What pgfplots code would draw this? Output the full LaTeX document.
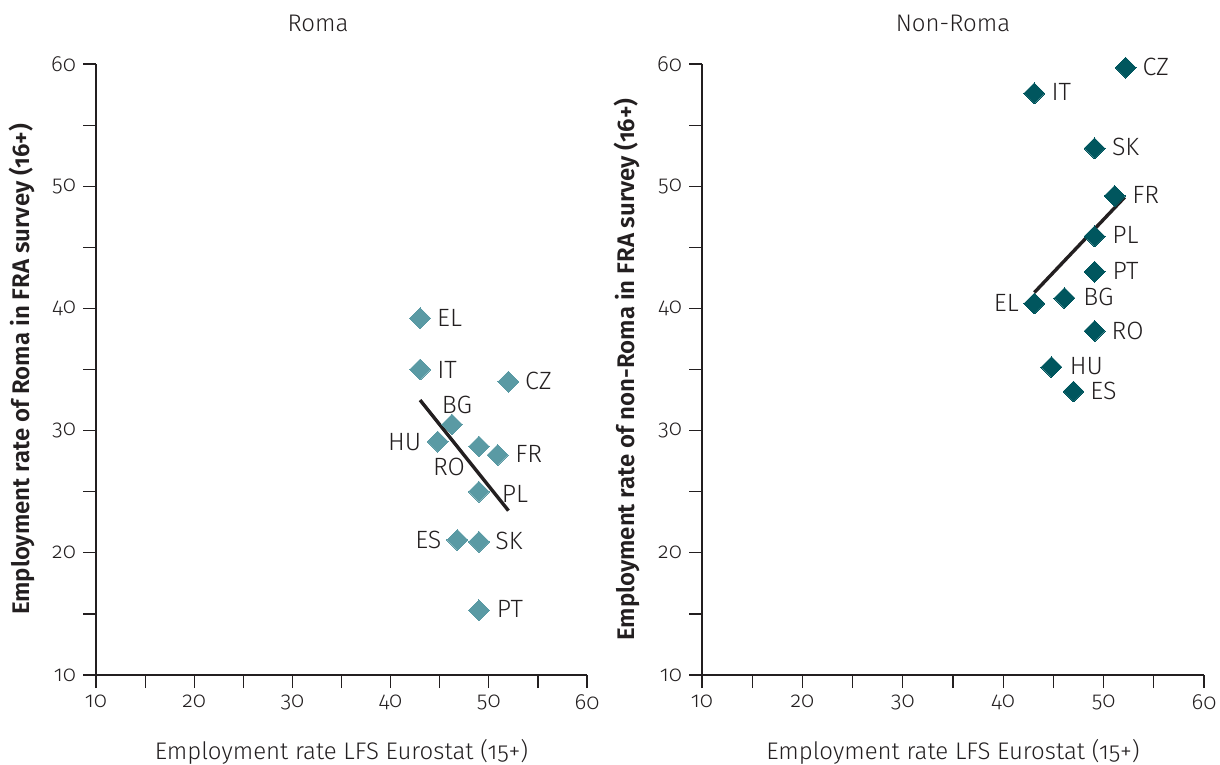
\documentclass[border=0pt]{standalone}
\usepackage{pgfplots}
\pgfplotsset{compat=1.18}
\usepackage{pgfplotstable}
\usepackage{fontspec}
\setmainfont{Fira Sans}[Numbers=OldStyle, UprightFont=* Light, BoldFont=* SemiBold]
\definecolor{romac}{HTML}{5A9AA4}
\definecolor{nonromac}{HTML}{00565E}
\definecolor{txt}{HTML}{231F20}

\pgfplotstableread{
x y label dx dy
43.0 39.2 EL 14.75 0
43.0 35.0 IT 13.5 0
52.0 34.0 CZ 15 0.5
46.25 30.5 BG 2.5 10
44.8 29.1 HU -16.5 0
49.0 28.7 RO -15 -10
50.9 28.0 FR 15.5 0.5
49.0 25.0 PL 18 -1
46.8 21.05 ES -14.5 0
49.0 20.9 SK 15 0.5
49.0 15.3 PT 15.5 0.5
}\romadata

\pgfplotstableread{
x y label dx dy
52.2 59.7 CZ 15 0.5
43.1 57.6 IT 13.5 0.5
49.1 53.1 SK 15.5 0.5
51.1 49.2 FR 15.5 0.5
49.1 45.9 PL 15.5 0.5
49.1 43.0 PT 15.5 0.5
46.1 40.85 BG 17 0.5
43.1 40.4 EL -14 0.5
49.1 38.15 RO 16.5 0
44.8 35.2 HU 17.5 0.5
47.0 33.2 ES 15 0.5
}\nonromadata

\pgfplotsset{
  panel/.style={
    scale only axis, height=305.5pt,
    xmin=10, xmax=60, ymin=10, ymax=60,
    axis x line*=bottom, axis y line*=left,
    axis line style={-, txt, line width=0.6pt},
    tick style={txt, line width=0.6pt},
    tick align=outside,
    major tick length=6.5pt, minor tick length=6.5pt,
    xtick={10,20,...,60}, ytick={10,20,...,60},
    minor x tick num=1, minor y tick num=1,
    tick label style={font=\fontsize{11}{12}\selectfont, text=txt},
    /pgf/number format/assume math mode=true,
    xlabel style={font=\fontsize{12}{14}\selectfont, text=txt, at={(axis description cs:0.5,-0.126)}, anchor=center},
    ylabel style={font=\fontsize{12}{14}\selectfont\bfseries, text=txt, at={(axis description cs:-0.15,0.5)}, anchor=center},
    title style={font=\fontsize{12}{14}\selectfont, text=txt, anchor=center, yshift=-5pt},
    clip=false,
  },
  pts/.style={only marks, mark=square*, mark size=3.7pt,
    mark options={rotate=45, fill=#1, draw=#1, line width=0pt},
    nodes near coords, point meta=explicit symbolic,
    visualization depends on={\thisrow{dx} \as \dx},
    visualization depends on={\thisrow{dy} \as \dy},
    every node near coord/.append style={anchor=center, xshift=\dx pt, yshift=\dy pt,
      font=\fontsize{12.5}{14}\selectfont, text=txt, inner sep=0pt}},
}

\begin{document}
\begin{tikzpicture}
\useasboundingbox (0,0) rectangle (610pt,-382.5pt);
\begin{axis}[panel, width=245.5pt, at={(48pt,-337.5pt)}, anchor=south west,
  title={Roma}, title style={at={(axis description cs:0.452,1.0638)}},
  xlabel={Employment rate LFS Eurostat (15+)},
  ylabel={Employment rate of Roma in FRA survey (16+)}]
\addplot[pts=romac] table[x=x, y=y, meta=label]{\romadata};
\addplot[txt, line width=1.7pt, no marks] coordinates {(43,32.5) (52,23.45)};
\end{axis}
\begin{axis}[panel, width=251pt, at={(351pt,-337.5pt)}, anchor=south west,
  title={Non-Roma}, title style={at={(axis description cs:0.5,1.0638)}},
  xlabel={Employment rate LFS Eurostat (15+)},
  ylabel={Employment rate of non-Roma in FRA survey (16+)}]
\addplot[txt, line width=1.7pt, no marks] coordinates {(43.1,41.3) (52.1,49.1)};
\addplot[pts=nonromac] table[x=x, y=y, meta=label]{\nonromadata};
\end{axis}
\end{tikzpicture}
\end{document}
